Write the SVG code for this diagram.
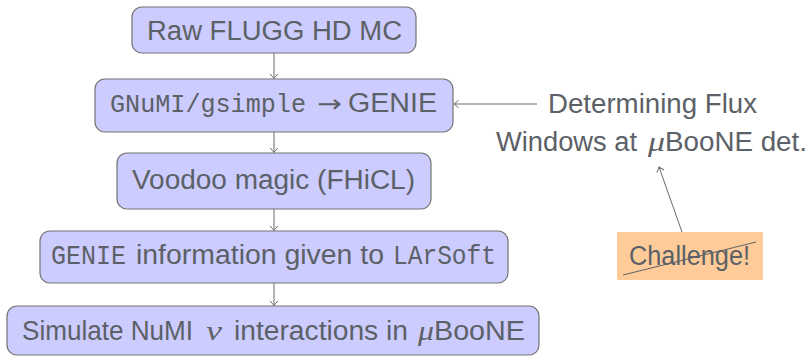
<svg xmlns="http://www.w3.org/2000/svg" width="811" height="357" viewBox="0 0 811 357">
<defs>
<style>
.box{fill:#ccccff;stroke:#737373;stroke-width:1.2}
.t{font-family:"Liberation Sans","DejaVu Sans",sans-serif;font-size:27px;fill:#5c6167}
.tt{font-family:"Liberation Mono","DejaVu Sans Mono",monospace;font-size:27px}
.m{font-family:"Liberation Serif","DejaVu Serif",serif;font-style:italic}
.c{stroke:#6a6a6a;stroke-width:1;fill:none}
</style>
<marker id="ah" markerUnits="userSpaceOnUse" markerWidth="12" markerHeight="12" viewBox="-6 -6 12 12" refX="0" refY="0" orient="auto">
<path d="M-4.5,-3.8 Q-1.2,-0.8 0,0 Q-1.2,0.8 -4.5,3.8" fill="none" stroke="#6a6a6a" stroke-width="1"/>
</marker>
</defs>
<g id="connectors">
<line class="c" x1="274" y1="53" x2="274" y2="78.5" marker-end="url(#ah)"/>
<line class="c" x1="274" y1="132" x2="274" y2="152.5" marker-end="url(#ah)"/>
<line class="c" x1="274" y1="209" x2="274" y2="230.5" marker-end="url(#ah)"/>
<line class="c" x1="274" y1="283" x2="274" y2="305.5" marker-end="url(#ah)"/>
<line class="c" x1="537" y1="104" x2="454" y2="104" marker-end="url(#ah)"/>
<line class="c" x1="682" y1="232" x2="659" y2="167" marker-end="url(#ah)"/>
</g>
<g id="n1">
<rect class="box" x="132" y="7" width="284" height="46" rx="10"/>
<text class="t" x="147" y="39.5" textLength="255" lengthAdjust="spacingAndGlyphs">Raw FLUGG HD MC</text>
</g>
<g id="n2">
<rect class="box" x="95" y="79" width="358" height="53" rx="10"/>
<text class="t" y="112"><tspan class="tt" x="110" style="font-size:25px" textLength="196" lengthAdjust="spacingAndGlyphs">GNuMI/gsimple</tspan><tspan x="317" style="font-family:'DejaVu Sans',sans-serif;font-size:24px" textLength="25" lengthAdjust="spacingAndGlyphs">→</tspan><tspan x="348" textLength="89" lengthAdjust="spacingAndGlyphs">GENIE</tspan></text>
</g>
<g id="n3">
<rect class="box" x="117" y="153" width="314" height="56" rx="10"/>
<text class="t" x="132" y="188.5" textLength="283" lengthAdjust="spacingAndGlyphs">Voodoo magic (FHiCL)</text>
</g>
<g id="n4">
<rect class="box" x="40" y="231" width="468" height="52" rx="10"/>
<text class="t" y="264"><tspan class="tt" x="51" textLength="75" lengthAdjust="spacingAndGlyphs">GENIE</tspan><tspan x="136" textLength="248" lengthAdjust="spacingAndGlyphs">information given to</tspan><tspan class="tt" x="393" textLength="103" lengthAdjust="spacingAndGlyphs">LArSoft</tspan></text>
</g>
<g id="n5">
<rect class="box" x="7" y="306" width="532" height="49" rx="10"/>
<text class="t" y="339.5"><tspan x="22" textLength="171" lengthAdjust="spacingAndGlyphs">Simulate NuMI</tspan><tspan class="m" x="206" textLength="16" lengthAdjust="spacingAndGlyphs">ν</tspan><tspan x="234" textLength="174" lengthAdjust="spacingAndGlyphs">interactions in</tspan><tspan class="m" x="418" textLength="16" lengthAdjust="spacingAndGlyphs">μ</tspan><tspan x="434" textLength="91" lengthAdjust="spacingAndGlyphs">BooNE</tspan></text>
</g>
<g id="flux">
<text class="t" x="548" y="113" textLength="209" lengthAdjust="spacingAndGlyphs">Determining Flux</text>
<text class="t" y="150.5"><tspan x="496" textLength="141" lengthAdjust="spacingAndGlyphs">Windows at</tspan><tspan class="m" x="648" textLength="17" lengthAdjust="spacingAndGlyphs">μ</tspan><tspan x="665" textLength="142" lengthAdjust="spacingAndGlyphs">BooNE det.</tspan></text>
</g>
<g id="challenge">
<rect x="617" y="232" width="146" height="48" fill="#ffcc99"/>
<text class="t" x="629" y="265" textLength="121" lengthAdjust="spacingAndGlyphs">Challenge!</text>
<line x1="623" y1="275" x2="756" y2="242" stroke="#5c6167" stroke-width="1"/>
</g>
</svg>
